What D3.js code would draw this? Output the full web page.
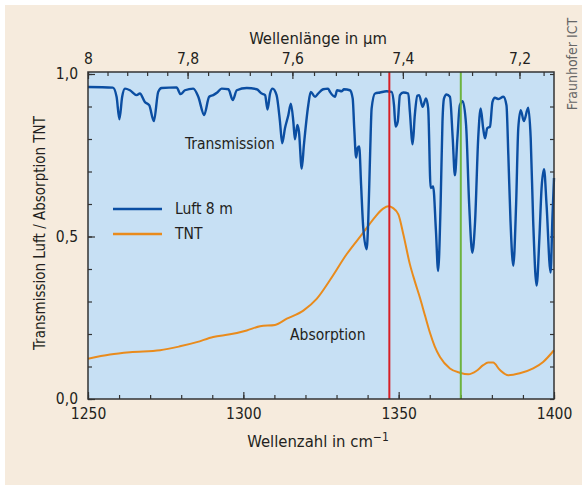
<!DOCTYPE html>
<html>
<head>
<meta charset="utf-8">
<script src="https://cdn.jsdelivr.net/npm/d3@7"></script>
<style>
  html, body { margin: 0; padding: 0; background: #fff; }
  svg text { font-family: "Liberation Sans Narrow", "DejaVu Sans Condensed", "Roboto Condensed", sans-serif; fill: #231f20; }
</style>
</head>
<body>
<script>
// Transmission of 8 m air (wavenumber in cm^-1, transmission)
const transWavenumber = [1250, 1258, 1259.2, 1260.1, 1261.0, 1261.9, 1263.5, 1265.7, 1266.7, 1268.3, 1269.7, 1271.2, 1272.6, 1273.7,
  1278.5, 1279.8, 1281.2, 1283.9, 1285.5, 1287.4, 1289.0, 1290.3, 1291.6, 1293.0, 1295.2, 1296.6, 1297.9, 1301.1, 1304.3,
  1305.9, 1307.0, 1307.8, 1308.6, 1309.4, 1310.7, 1311.8, 1312.5, 1313.4, 1314.5, 1315.3, 1316.1, 1316.6, 1317.4, 1317.9,
  1318.8, 1319.5, 1320.9, 1321.7, 1323.1, 1324.1, 1325.7, 1327.3, 1327.9, 1329.5, 1330.2, 1331.7, 1332.4, 1334.3, 1335.2,
  1335.7, 1336.3, 1336.8, 1337.3, 1337.9, 1338.6, 1339.7, 1340.2, 1340.8, 1341.3, 1342.4, 1344.0, 1346.1, 1347.7, 1348.5,
  1349.0, 1349.7, 1350.4, 1351.5, 1353.1, 1353.6, 1354.5, 1355.2, 1356.0, 1356.6, 1357.7, 1358.8, 1359.5, 1360.3, 1361.1,
  1362.0, 1362.7, 1363.5, 1364.1, 1364.6, 1365.4, 1366.5, 1367.4, 1368.1, 1368.9, 1369.7, 1370.6, 1371.7, 1372.7, 1373.7,
  1374.6, 1375.6, 1376.4, 1377.2, 1377.8, 1378.5, 1379.4, 1380.2, 1381.0, 1382.0, 1383.7, 1384.7, 1385.3, 1386.0, 1386.9,
  1387.8, 1388.5, 1389.3, 1390.3, 1391.7, 1392.5, 1393.3, 1394.4, 1395.3, 1396.0, 1396.8, 1397.6, 1398.9, 1399.5, 1400];
const transValue = [0.960, 0.958, 0.93, 0.861, 0.93, 0.955, 0.950, 0.935, 0.940, 0.914, 0.904, 0.855, 0.945, 0.957,
  0.959, 0.938, 0.950, 0.955, 0.930, 0.874, 0.930, 0.935, 0.943, 0.955, 0.953, 0.920, 0.950, 0.957, 0.953,
  0.940, 0.935, 0.891, 0.940, 0.955, 0.935, 0.853, 0.787, 0.833, 0.874, 0.909, 0.853, 0.799, 0.843, 0.823,
  0.709, 0.782, 0.904, 0.945, 0.930, 0.940, 0.953, 0.955, 0.945, 0.930, 0.950, 0.947, 0.953, 0.950, 0.925,
  0.833, 0.743, 0.772, 0.777, 0.660, 0.527, 0.461, 0.547, 0.751, 0.894, 0.940, 0.943, 0.947, 0.945, 0.904,
  0.838, 0.853, 0.935, 0.943, 0.940, 0.884, 0.784, 0.874, 0.933, 0.935, 0.899, 0.925, 0.894, 0.649, 0.654,
  0.517, 0.394, 0.598, 0.853, 0.925, 0.937, 0.930, 0.802, 0.688, 0.802, 0.904, 0.916, 0.843, 0.598, 0.450,
  0.547, 0.802, 0.894, 0.833, 0.802, 0.833, 0.838, 0.914, 0.927, 0.923, 0.930, 0.904, 0.751, 0.547, 0.410,
  0.598, 0.833, 0.889, 0.855, 0.896, 0.802, 0.547, 0.349, 0.496, 0.649, 0.707, 0.598, 0.389, 0.56, 0.68];

// Absorption of TNT
const tntWavenumber = [1250, 1257.1, 1263.5, 1273.2, 1279.6, 1285.0, 1290.3, 1295.7, 1301.1, 1305.4, 1310.2, 1314.0,
  1319.3, 1323.6, 1327.9, 1333.3, 1338.6, 1341.8, 1345.0, 1346.7, 1348.1, 1349.9, 1351.5, 1353.6, 1355.2, 1356.9,
  1358.5, 1360.1, 1361.6, 1363.3, 1366.5, 1369.7, 1372.4, 1375.1, 1377.2, 1378.8, 1380.4, 1382.6, 1385.3, 1389.0, 1393.3,
  1396.5, 1400];
const tntValue = [0.124, 0.137, 0.144, 0.150, 0.162, 0.175, 0.191, 0.199, 0.211, 0.224, 0.228, 0.247,
  0.272, 0.308, 0.366, 0.446, 0.512, 0.553, 0.586, 0.593, 0.588, 0.568, 0.507, 0.415, 0.362, 0.310,
  0.256, 0.203, 0.162, 0.129, 0.094, 0.081, 0.076, 0.087, 0.104, 0.112, 0.112, 0.089, 0.073, 0.079, 0.094,
  0.114, 0.150];

const markerLines = [1347, 1370];   // red, green
const markerColors = ["#d71f26", "#6cb33f"];

const wavelengthTicks = [8, 7.8, 7.6, 7.4, 7.2];
const wavelengthMinor = d3.range(8, 7.14, -0.04);
const yMajor = [0, 0.5, 1.0];

const legendNames = ["Luft 8 m", "TNT"];
const colors = ["#0b4ea2", "#e98b1c"];

const width = 582, height = 488;
const plotLeft = 88, plotRight = 554, plotTop = 72, plotBottom = 399;

const svg = d3.select("body").append("svg")
    .attr("width", width)
    .attr("height", height);

svg.append("rect")
    .attr("x", 5).attr("y", 5)
    .attr("width", width - 5).attr("height", height - 8)
    .attr("fill", "#f6ebdd");

const x = d3.scaleLinear().domain([1250, 1400]).range([plotLeft, plotRight]);
const y = d3.scaleLinear().domain([0, 1]).range([plotBottom, plotTop + 2]);

svg.append("rect")
    .attr("x", plotLeft).attr("y", plotTop)
    .attr("width", plotRight - plotLeft).attr("height", plotBottom - plotTop)
    .attr("fill", "#c7e0f4");

const fmt = d => d3.format(".1f")(d).replace(".", ",");

// bottom axis
svg.append("g")
    .attr("transform", `translate(0,${plotBottom})`)
    .call(d3.axisBottom(x).tickValues(d3.range(1250, 1401, 10)).tickSize(-4).tickFormat(""));
svg.append("g")
    .attr("class", "lab")
    .attr("transform", `translate(0,${plotBottom})`)
    .call(d3.axisBottom(x).tickValues([1250, 1300, 1350, 1400]).tickSize(-7).tickPadding(9).tickFormat(d3.format("d")));

// top axis (wavelength)
svg.append("g")
    .attr("transform", `translate(0,${plotTop})`)
    .call(d3.axisTop(x).tickValues(wavelengthMinor.map(u => 1e4 / u).filter(w => w <= 1400.01)).tickSize(-4).tickFormat(""));
svg.append("g")
    .attr("class", "lab")
    .attr("transform", `translate(0,${plotTop})`)
    .call(d3.axisTop(x).tickValues(wavelengthTicks.map(u => 1e4 / u)).tickSize(-7).tickPadding(8)
        .tickFormat(w => { const u = 1e4 / w; return Math.abs(u - 8) < 1e-6 ? "8" : fmt(u); }));

// left & right axes
svg.append("g")
    .attr("transform", `translate(${plotLeft},0)`)
    .call(d3.axisLeft(y).tickValues(d3.range(0, 1.01, 0.1)).tickSize(-4).tickFormat(""));
svg.append("g")
    .attr("class", "lab")
    .attr("transform", `translate(${plotLeft},0)`)
    .call(d3.axisLeft(y).tickValues(yMajor).tickSize(-7).tickPadding(10).tickFormat(fmt));
svg.append("g")
    .attr("transform", `translate(${plotRight},0)`)
    .call(d3.axisRight(y).tickValues(d3.range(0, 1.01, 0.1)).tickSize(-4).tickFormat(""));

svg.selectAll(".domain").remove();
svg.selectAll(".tick line").attr("stroke", "#333").attr("stroke-width", 1.2);
svg.selectAll(".lab text").attr("font-size", 15.5).attr("fill", "#231f20");

const line = d3.line()
    .x(d => x(d[0]))
    .y(d => y(d[1]))
    .curve(d3.curveMonotoneX);

svg.append("path")
    .datum(d3.zip(tntWavenumber, tntValue))
    .attr("fill", "none")
    .attr("stroke", colors[1])
    .attr("stroke-width", 2)
    .attr("d", line);

svg.append("path")
    .datum(d3.zip(transWavenumber, transValue))
    .attr("fill", "none")
    .attr("stroke", colors[0])
    .attr("stroke-width", 2.4)
    .attr("stroke-linejoin", "round")
    .attr("d", line);

svg.selectAll(".marker")
    .data(markerLines)
    .join("line")
    .attr("x1", d => x(d)).attr("x2", d => x(d))
    .attr("y1", plotTop).attr("y2", plotBottom)
    .attr("stroke", (d, i) => markerColors[i])
    .attr("stroke-width", 2);

// frame
svg.append("rect")
    .attr("x", plotLeft).attr("y", plotTop)
    .attr("width", plotRight - plotLeft).attr("height", plotBottom - plotTop)
    .attr("fill", "none")
    .attr("stroke", "#333")
    .attr("stroke-width", 1.5);

// legend
const legend = svg.append("g")
    .selectAll("g")
    .data(legendNames)
    .join("g")
    .attr("transform", (d, i) => `translate(113,${209 + i * 25})`);
legend.append("line")
    .attr("x2", 49)
    .attr("stroke", (d, i) => colors[i])
    .attr("stroke-width", 2.4);
legend.append("text")
    .attr("x", 62).attr("dy", "0.35em")
    .attr("font-size", 15.5)
    .text(d => d);

svg.append("text")
    .attr("x", 185).attr("y", 149)
    .attr("font-size", 15.5)
    .text("Transmission");
svg.append("text")
    .attr("x", 290).attr("y", 340)
    .attr("font-size", 15.5)
    .text("Absorption");

// titles
svg.append("text")
    .attr("x", 318).attr("y", 44)
    .attr("text-anchor", "middle")
    .attr("font-size", 16.5)
    .text("Wellenlänge in µm");

const xt = svg.append("text")
    .attr("x", 318).attr("y", 447)
    .attr("text-anchor", "middle")
    .attr("font-size", 16.5)
    .text("Wellenzahl in cm");
xt.append("tspan").attr("dy", -6).attr("font-size", 12).text("−1");

svg.append("text")
    .attr("transform", "translate(45,233) rotate(-90)")
    .attr("text-anchor", "middle")
    .attr("font-size", 15)
    .text("Transmission Luft / Absorption TNT");

svg.append("text")
    .attr("transform", "translate(577,64) rotate(-90)")
    .attr("text-anchor", "middle")
    .attr("font-size", 14)
    .style("fill", "#666")
    .text("Fraunhofer ICT");
</script>
</body>
</html>
